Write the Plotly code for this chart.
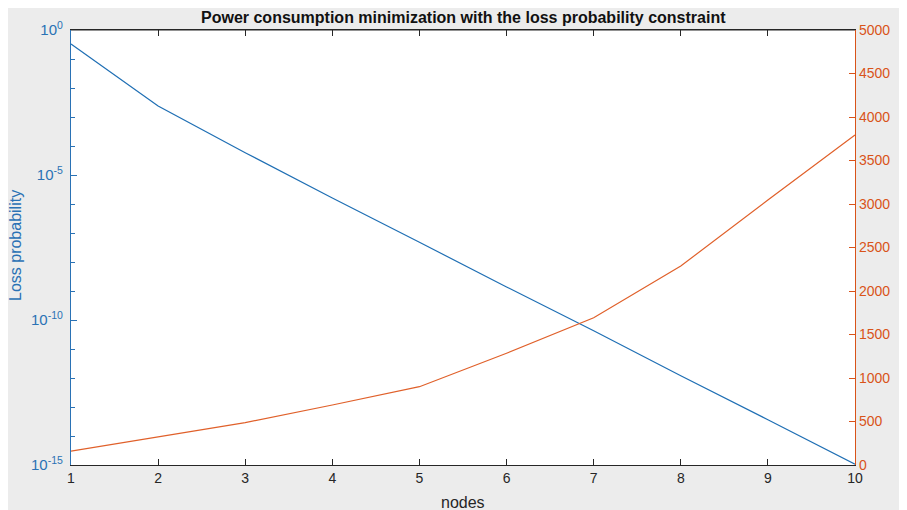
import plotly.graph_objects as go

nodes = [1, 2, 3, 4, 5, 6, 7, 8, 9, 10]
loss_log10 = [-0.48, -2.62, -4.23, -5.79, -7.32, -8.86, -10.37, -11.92, -13.44, -14.97]
loss_prob = [10 ** v for v in loss_log10]
power = [160, 326, 487, 690, 900, 1284, 1693, 2287, 3046, 3793]

left_tick_vals = [1e-15, 1e-10, 1e-5, 1]
left_tick_text = ["10<sup>-15</sup>", "10<sup>-10</sup>", "10<sup>-5</sup>", "10<sup>0</sup>"]
minor_vals = [10 ** (-k) for k in range(1, 15) if k % 5 != 0]

BLUE = "#2a72b5"
ORANGE = "#d95319"
DARK = "#262626"
FONT = "Liberation Sans"

# the page body adds an 8px offset; the figure spans from (8,8) in the window
OFF = 8
W, H = 899, 502
L, R, T, B = 63, 52, 22, 45
pw = W - L - R
ph = H - T - B

def px_x(p):
    return (p - OFF - L) / pw

def px_y(p):
    return (H - B - (p - OFF)) / ph

fig = go.Figure()
fig.add_trace(go.Scatter(x=nodes, y=loss_prob, mode="lines",
                         line=dict(color="#1f6fb4", width=1.2), yaxis="y", showlegend=False))
fig.add_trace(go.Scatter(x=nodes, y=power, mode="lines",
                         line=dict(color="#e0602a", width=1.2), yaxis="y2", showlegend=False))

fig.update_layout(
    width=W, height=H,
    margin=dict(l=L, r=R, t=T, b=B),
    paper_bgcolor="#ececec",
    plot_bgcolor="white",
    font=dict(family=FONT, size=14, color=DARK),
    xaxis=dict(range=[1, 10], dtick=1, tick0=1, ticks="inside", ticklen=6, tickcolor=DARK,
               showline=True, linecolor=DARK, linewidth=1.2, mirror="ticks",
               showgrid=False, zeroline=False,
               tickfont=dict(size=14, color=DARK)),
    yaxis=dict(type="log", range=[-15, 0], tickvals=left_tick_vals, ticktext=left_tick_text,
               ticks="inside", ticklen=6, tickcolor=BLUE, ticklabelstandoff=4,
               minor=dict(tickvals=minor_vals, ticks="inside", ticklen=4, tickcolor=BLUE, showgrid=False),
               showline=True, linecolor=BLUE, linewidth=1.2,
               showgrid=False, zeroline=False,
               tickfont=dict(size=15, color=BLUE)),
    yaxis2=dict(overlaying="y", side="right", range=[0, 5000], dtick=500,
                ticks="inside", ticklen=6, tickcolor=ORANGE,
                showline=True, linecolor=ORANGE, linewidth=1.2,
                showgrid=False, zeroline=False,
                tickfont=dict(size=14, color=ORANGE)),
    shapes=[
        dict(type="line", xref="paper", yref="paper", x0=0, x1=1, y0=1, y1=1,
             line=dict(color=DARK, width=1.2)),
    ],
    annotations=[
        dict(text="<b>Power consumption minimization with the loss probability constraint</b>",
             xref="paper", yref="paper", x=px_x(463), y=px_y(17), xanchor="center", yanchor="middle",
             showarrow=False, font=dict(size=16, color="#111111", family=FONT)),
        dict(text="nodes", xref="paper", yref="paper", x=px_x(463), y=px_y(502),
             xanchor="center", yanchor="middle", showarrow=False,
             font=dict(size=16, color=DARK, family=FONT)),
        dict(text="Loss probability", xref="paper", yref="paper", x=px_x(15), y=px_y(246),
             xanchor="center", yanchor="middle", textangle=-90, showarrow=False,
             font=dict(size=16, color=BLUE, family=FONT)),
        dict(text="Power Consumption", xref="paper", yref="paper", x=px_x(900), y=px_y(248),
             xanchor="left", yanchor="middle", textangle=-90, showarrow=False,
             font=dict(size=16, color=ORANGE, family=FONT)),
    ],
)

fig.write_html("out.html")
